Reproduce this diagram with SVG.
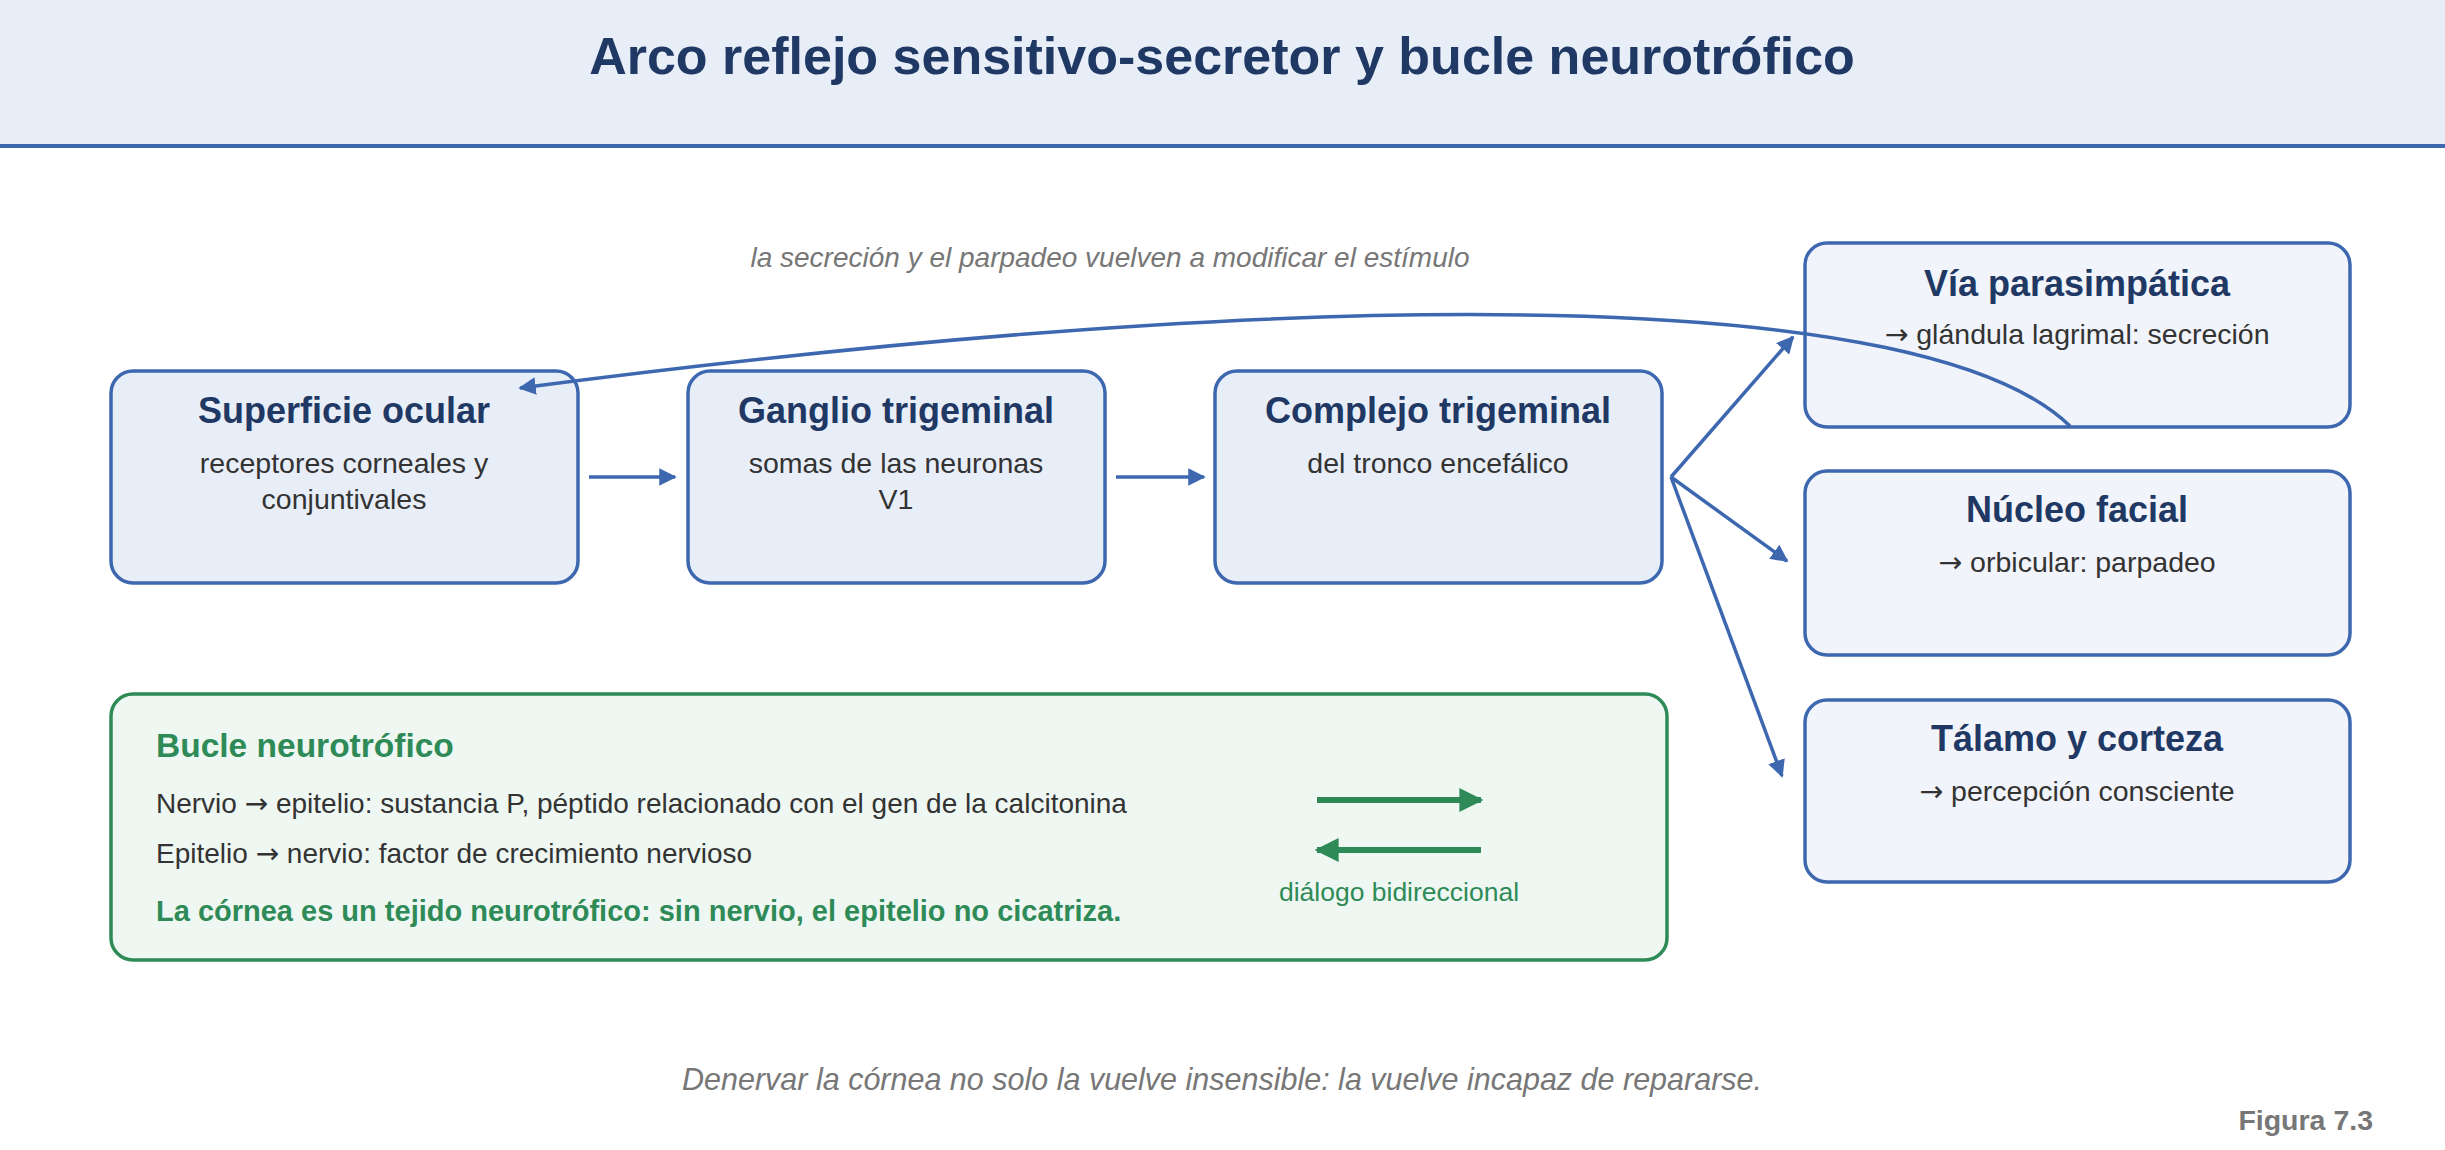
<svg xmlns="http://www.w3.org/2000/svg" width="2445" height="1150" viewBox="0 0 2445 1150">
<style>
text{font-family:"Liberation Sans",Arial,sans-serif}
.box{fill:#e8eef8;stroke:#3d68b0;stroke-width:3.5}
.rbox{fill:#f1f4fa;stroke:#3d68b0;stroke-width:3.5}
.t{font-size:36px;font-weight:bold;fill:#1f3864;text-anchor:middle}
.s{font-size:28.5px;fill:#333;text-anchor:middle}
.ar{font-family:"DejaVu Sans",sans-serif}
.c{stroke:#3d68b0;stroke-width:3.5;fill:none}
.g{stroke:#2e8b57;stroke-width:6;fill:none}
</style>
<defs>
<marker id="a" viewBox="0 0 10 10" refX="9" refY="5" markerWidth="5" markerHeight="5" orient="auto-start-reverse"><path d="M0,0L10,5L0,10z" fill="#3d68b0"/></marker>
<marker id="ag" viewBox="0 0 10 10" refX="9" refY="5" markerWidth="4" markerHeight="4" orient="auto-start-reverse"><path d="M0,0L10,5L0,10z" fill="#2e8b57"/></marker>
</defs>
<rect width="2445" height="1150" fill="#fff"/>
<rect width="2445" height="145" fill="#e8eef8"/>
<line x1="0" y1="146" x2="2445" y2="146" stroke="#3d68b0" stroke-width="4"/>
<text x="1222" y="74" font-size="52" font-weight="bold" fill="#1f3864" text-anchor="middle">Arco reflejo sensitivo-secretor y bucle neurotrófico</text>
<g id="n1"><rect class="box" x="111" y="371" width="467" height="212" rx="22"/><text class="t" x="344" y="423">Superficie ocular</text><text class="s" x="344" y="473">receptores corneales y</text><text class="s" x="344" y="509">conjuntivales</text></g>
<g id="n2"><rect class="box" x="688" y="371" width="417" height="212" rx="22"/><text class="t" x="896" y="423">Ganglio trigeminal</text><text class="s" x="896" y="473">somas de las neuronas</text><text class="s" x="896" y="509">V1</text></g>
<g id="n3"><rect class="box" x="1215" y="371" width="447" height="212" rx="22"/><text class="t" x="1438" y="423">Complejo trigeminal</text><text class="s" x="1438" y="473">del tronco encefálico</text></g>
<g id="n4"><rect class="rbox" x="1805" y="243" width="545" height="184" rx="22"/><text class="t" x="2077" y="296">Vía parasimpática</text><text class="s" x="2077" y="344"><tspan class="ar">→</tspan> glándula lagrimal: secreción</text></g>
<g id="n5"><rect class="rbox" x="1805" y="471" width="545" height="184" rx="22"/><text class="t" x="2077" y="522">Núcleo facial</text><text class="s" x="2077" y="572"><tspan class="ar">→</tspan> orbicular: parpadeo</text></g>
<g id="n6"><rect class="rbox" x="1805" y="700" width="545" height="182" rx="22"/><text class="t" x="2077" y="751">Tálamo y corteza</text><text class="s" x="2077" y="801"><tspan class="ar">→</tspan> percepción consciente</text></g>
<g id="connectors">
<line class="c" x1="589" y1="477" x2="675" y2="477" marker-end="url(#a)"/>
<line class="c" x1="1116" y1="477" x2="1204" y2="477" marker-end="url(#a)"/>
<line class="c" x1="1671" y1="477" x2="1793" y2="337" marker-end="url(#a)"/>
<line class="c" x1="1671" y1="477" x2="1787" y2="561" marker-end="url(#a)"/>
<line class="c" x1="1671" y1="477" x2="1782" y2="776" marker-end="url(#a)"/>
<path class="c" d="M2070,426 C1930,290 1350,280 520,388" marker-end="url(#a)"/>
<text x="1110" y="267" font-size="28" font-style="italic" fill="#777" text-anchor="middle">la secreción y el parpadeo vuelven a modificar el estímulo</text>
</g>
<g id="bucle">
<rect x="111" y="694" width="1556" height="266" rx="22" fill="#eff7f2" stroke="#2e8b57" stroke-width="3.5"/>
<text x="156" y="757" font-size="33.5" font-weight="bold" fill="#2e8b57">Bucle neurotrófico</text>
<text x="156" y="813" font-size="28" fill="#333">Nervio <tspan class="ar">→</tspan> epitelio: sustancia P, péptido relacionado con el gen de la calcitonina</text>
<text x="156" y="863" font-size="28" fill="#333">Epitelio <tspan class="ar">→</tspan> nervio: factor de crecimiento nervioso</text>
<text x="156" y="921" font-size="29" font-weight="bold" fill="#2e8b57">La córnea es un tejido neurotrófico: sin nervio, el epitelio no cicatriza.</text>
<line class="g" x1="1317" y1="800" x2="1481" y2="800" marker-end="url(#ag)"/>
<line class="g" x1="1317" y1="850" x2="1481" y2="850" marker-start="url(#ag)"/>
<text x="1399" y="901" font-size="26.5" fill="#2e8b57" text-anchor="middle">diálogo bidireccional</text>
</g>
<text x="1222" y="1090" font-size="30.5" font-style="italic" fill="#777" text-anchor="middle">Denervar la córnea no solo la vuelve insensible: la vuelve incapaz de repararse.</text>
<text x="2373" y="1130" font-size="28.5" font-weight="bold" fill="#777" text-anchor="end">Figura 7.3</text>
</svg>
